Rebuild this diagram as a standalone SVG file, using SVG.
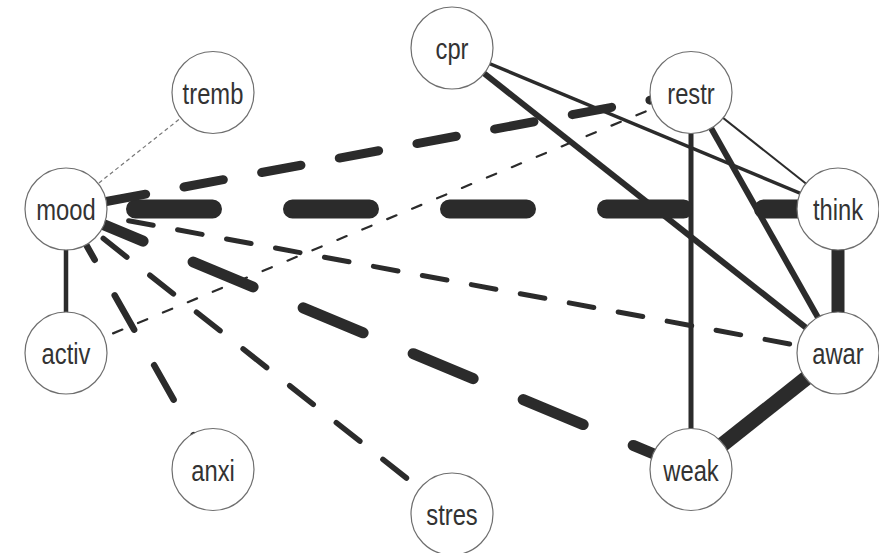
<svg xmlns="http://www.w3.org/2000/svg" width="879" height="553" viewBox="0 0 879 553">
<style>
.e{stroke:#2b2b2b;fill:none;stroke-linecap:butt}
.d{stroke:#2b2b2b;fill:none;stroke-linecap:round}
.n circle{fill:#fff;stroke:#6e6e6e;stroke-width:1.2}
.n text{font-family:"Liberation Sans",Arial,sans-serif;font-size:29px;fill:#333;text-anchor:middle}
</style>
<rect width="879" height="553" fill="#fff"/>
<g id="edges">
<line class="d" x1="66" y1="209" x2="213" y2="92.5" stroke-width="1.2" stroke-dasharray="4 3" style="stroke:#777;stroke-linecap:butt"/>
<line class="d" x1="66" y1="353" x2="691" y2="92.5" stroke-width="2.2" stroke-dasharray="10 17" stroke-dashoffset="3"/>
<line class="e" x1="66" y1="209" x2="66" y2="353" stroke-width="4.5"/>
<line class="e" x1="452" y1="48" x2="838" y2="209" stroke-width="3.5"/>
<line class="e" x1="452" y1="48" x2="838" y2="353" stroke-width="6"/>
<line class="e" x1="691" y1="92.5" x2="838" y2="209" stroke-width="2"/>
<line class="e" x1="691" y1="92.5" x2="838" y2="353" stroke-width="6"/>
<line class="e" x1="691" y1="92.5" x2="691" y2="469.5" stroke-width="5"/>
<line class="e" x1="838" y1="209" x2="838" y2="353" stroke-width="13"/>
<line class="e" x1="838" y1="353" x2="691" y2="469.5" stroke-width="15"/>
<line class="d" x1="66" y1="209" x2="838" y2="209" stroke-width="19" stroke-dasharray="77 80" stroke-dashoffset="87.5"/>
<line class="d" x1="66" y1="209" x2="691" y2="92.5" stroke-width="9" stroke-dasharray="40 39" stroke-dashoffset="38"/>
<line class="d" x1="66" y1="209" x2="838" y2="353" stroke-width="5" stroke-dasharray="25 24.8" stroke-dashoffset="35.9"/>
<line class="d" x1="66" y1="209" x2="691" y2="469.5" stroke-width="11" stroke-dasharray="65 54.2" stroke-dashoffset="100.7"/>
<line class="d" x1="66" y1="209" x2="452" y2="514" stroke-width="5.5" stroke-dasharray="30 29.4" stroke-dashoffset="11.9"/>
<line class="d" x1="66" y1="209" x2="213" y2="469.5" stroke-width="6.5" stroke-dasharray="39.5 40.8" stroke-dashoffset="61.5"/>
</g>
<g id="cpr" class="n"><circle cx="452" cy="48" r="41"/><text transform="translate(452 59) scale(0.82 1)">cpr</text></g>
<g id="restr" class="n"><circle cx="691" cy="92.5" r="41"/><text transform="translate(691 103.5) scale(0.82 1)">restr</text></g>
<g id="think" class="n"><circle cx="838" cy="209" r="41"/><text transform="translate(838 220) scale(0.82 1)">think</text></g>
<g id="awar" class="n"><circle cx="838" cy="353" r="41"/><text transform="translate(838 364) scale(0.82 1)">awar</text></g>
<g id="weak" class="n"><circle cx="691" cy="469.5" r="41"/><text transform="translate(691 480.5) scale(0.82 1)">weak</text></g>
<g id="stres" class="n"><circle cx="452" cy="514" r="41"/><text transform="translate(452 525) scale(0.82 1)">stres</text></g>
<g id="anxi" class="n"><circle cx="213" cy="469.5" r="41"/><text transform="translate(213 480.5) scale(0.82 1)">anxi</text></g>
<g id="activ" class="n"><circle cx="66" cy="353" r="41"/><text transform="translate(66 364) scale(0.82 1)">activ</text></g>
<g id="mood" class="n"><circle cx="66" cy="209" r="41"/><text transform="translate(66 220) scale(0.82 1)">mood</text></g>
<g id="tremb" class="n"><circle cx="213" cy="92.5" r="41"/><text transform="translate(213 103.5) scale(0.82 1)">tremb</text></g>
</svg>
